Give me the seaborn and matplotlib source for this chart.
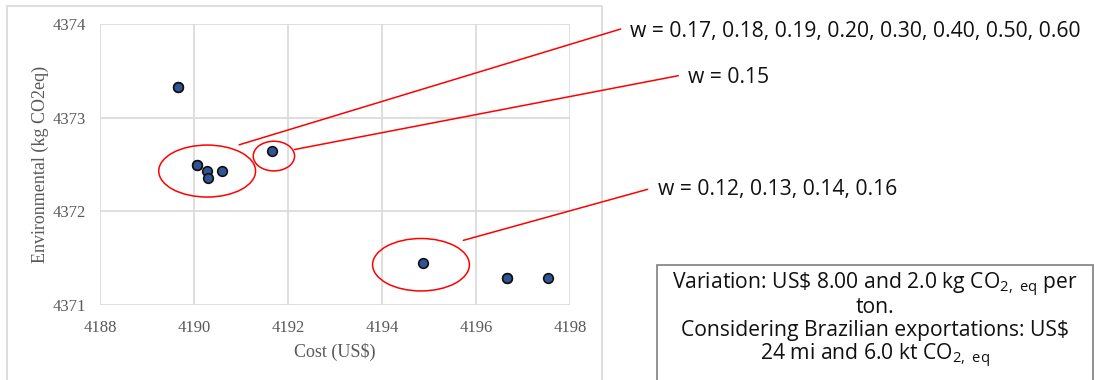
import numpy as np
import pandas as pd
import seaborn as sns
import matplotlib.pyplot as plt
from matplotlib.patches import Ellipse, Rectangle, ConnectionPatch

# datos
costo = [4189.66, 4189.66, 4190.07, 4190.07, 4190.28, 4190.30, 4190.59, 4191.67, 4194.87, 4196.65, 4196.65, 4197.54]
ambiental = [4373.33, 4373.33, 4372.49, 4372.49, 4372.43, 4372.36, 4372.43, 4372.64, 4371.45, 4371.29, 4371.29, 4371.29]

# grupos marcados (centro x, centro y, ancho, alto) y textos
grupos_x = [4190.28, 4191.70, 4194.83]
grupos_y = [4372.43, 4372.59, 4371.43]
grupos_w = [2.06, 0.88, 2.06]
grupos_h = [0.555, 0.317, 0.56]
etiquetas = ["w = 0.17, 0.18, 0.19, 0.20, 0.30, 0.40, 0.50, 0.60",
             "w = 0.15",
             "w = 0.12, 0.13, 0.14, 0.16"]
inicio_x = [4190.96, 4192.14, 4195.73]
inicio_y = [4372.71, 4372.66, 4371.69]

x_ticks = [4188, 4190, 4192, 4194, 4196, 4198]
y_ticks = [4371, 4372, 4373, 4374]

df = pd.DataFrame({"Cost": costo, "Env": ambiental})

sns.set_theme(style="whitegrid")
plt.rcParams["font.family"] = ["Open Sans", "DejaVu Sans"]
plt.rcParams["mathtext.fontset"] = "custom"
plt.rcParams["mathtext.rm"] = "Open Sans"
plt.rcParams["mathtext.it"] = "Open Sans"

W, H = 1095, 380
fig = plt.figure(figsize=(W / 100, H / 100), dpi=100)
ax = fig.add_axes([100 / W, 1 - 305 / H, 470 / W, 281 / H])

# marco del area del grafico
fig.add_artist(Rectangle((7 / W, -0.05), 595 / W, 1.05 - 6 / H, transform=fig.transFigure,
                         fill=False, edgecolor="#d9d9d9", linewidth=1.2))

sns.scatterplot(data=df, x="Cost", y="Env", ax=ax, s=48, color="#2f5597",
                edgecolor="#111111", linewidth=1.2, zorder=3)

ax.set_xlim(4188, 4198)
ax.set_ylim(4371, 4374)
ax.set_xticks(x_ticks)
ax.set_yticks(y_ticks)
ax.grid(True, color="#d9d9d9", linewidth=1.2)
for s in ax.spines.values():
    s.set_visible(False)
ax.tick_params(length=0, labelsize=12, labelcolor="#595959")
ax.tick_params(axis="x", pad=11)
ax.tick_params(axis="y", pad=10)
for lab in ax.get_xticklabels() + ax.get_yticklabels():
    lab.set_family("Liberation Serif")

ax.set_xlabel("Cost (US$)", family="Liberation Serif", fontsize=13, color="#595959")
ax.set_ylabel("Environmental (kg CO2eq)", family="Liberation Serif", fontsize=13, color="#595959")
ax.xaxis.set_label_coords(0.5, -0.135)
ax.yaxis.set_label_coords(-0.108, 0.5)

# elipses y lineas rojas
fin_px = [(620.7, 29), (678.3, 75.7), (647.7, 189.3)]
texto_px = [(630.5, 36.7), (688, 83.3), (657.5, 195)]
for i in range(3):
    ax.add_patch(Ellipse((grupos_x[i], grupos_y[i]), grupos_w[i], grupos_h[i],
                         fill=False, edgecolor="red", linewidth=1.1, zorder=4))
    con = ConnectionPatch(xyA=(inicio_x[i], inicio_y[i]), coordsA=ax.transData,
                          xyB=(fin_px[i][0] / W, 1 - fin_px[i][1] / H), coordsB=fig.transFigure,
                          color="red", linewidth=1.1)
    fig.add_artist(con)
    fig.text(texto_px[i][0] / W, 1 - texto_px[i][1] / H, etiquetas[i],
             fontsize=15.2, color="#111111", ha="left", va="baseline")

# cuadro de texto
fig.add_artist(Rectangle((657 / W, -0.05), 436 / W, 0.05 + 1 - 265 / H, transform=fig.transFigure,
                         fill=False, edgecolor="#7f7f7f", linewidth=1.2))
lineas = [r"Variation: US\$ 8.00 and 2.0 kg CO$_{\mathrm{2,\ eq}}$ per",
          "ton.",
          "Considering Brazilian exportations: US$",
          r"24 mi and 6.0 kt CO$_{\mathrm{2,\ eq}}$"]
bases = [289, 313, 336, 360]
for t, b in zip(lineas, bases):
    fig.text(875 / W, 1 - b / H, t, fontsize=15.2, color="#111111", ha="center", va="baseline")

plt.savefig("out.png", dpi=100)
